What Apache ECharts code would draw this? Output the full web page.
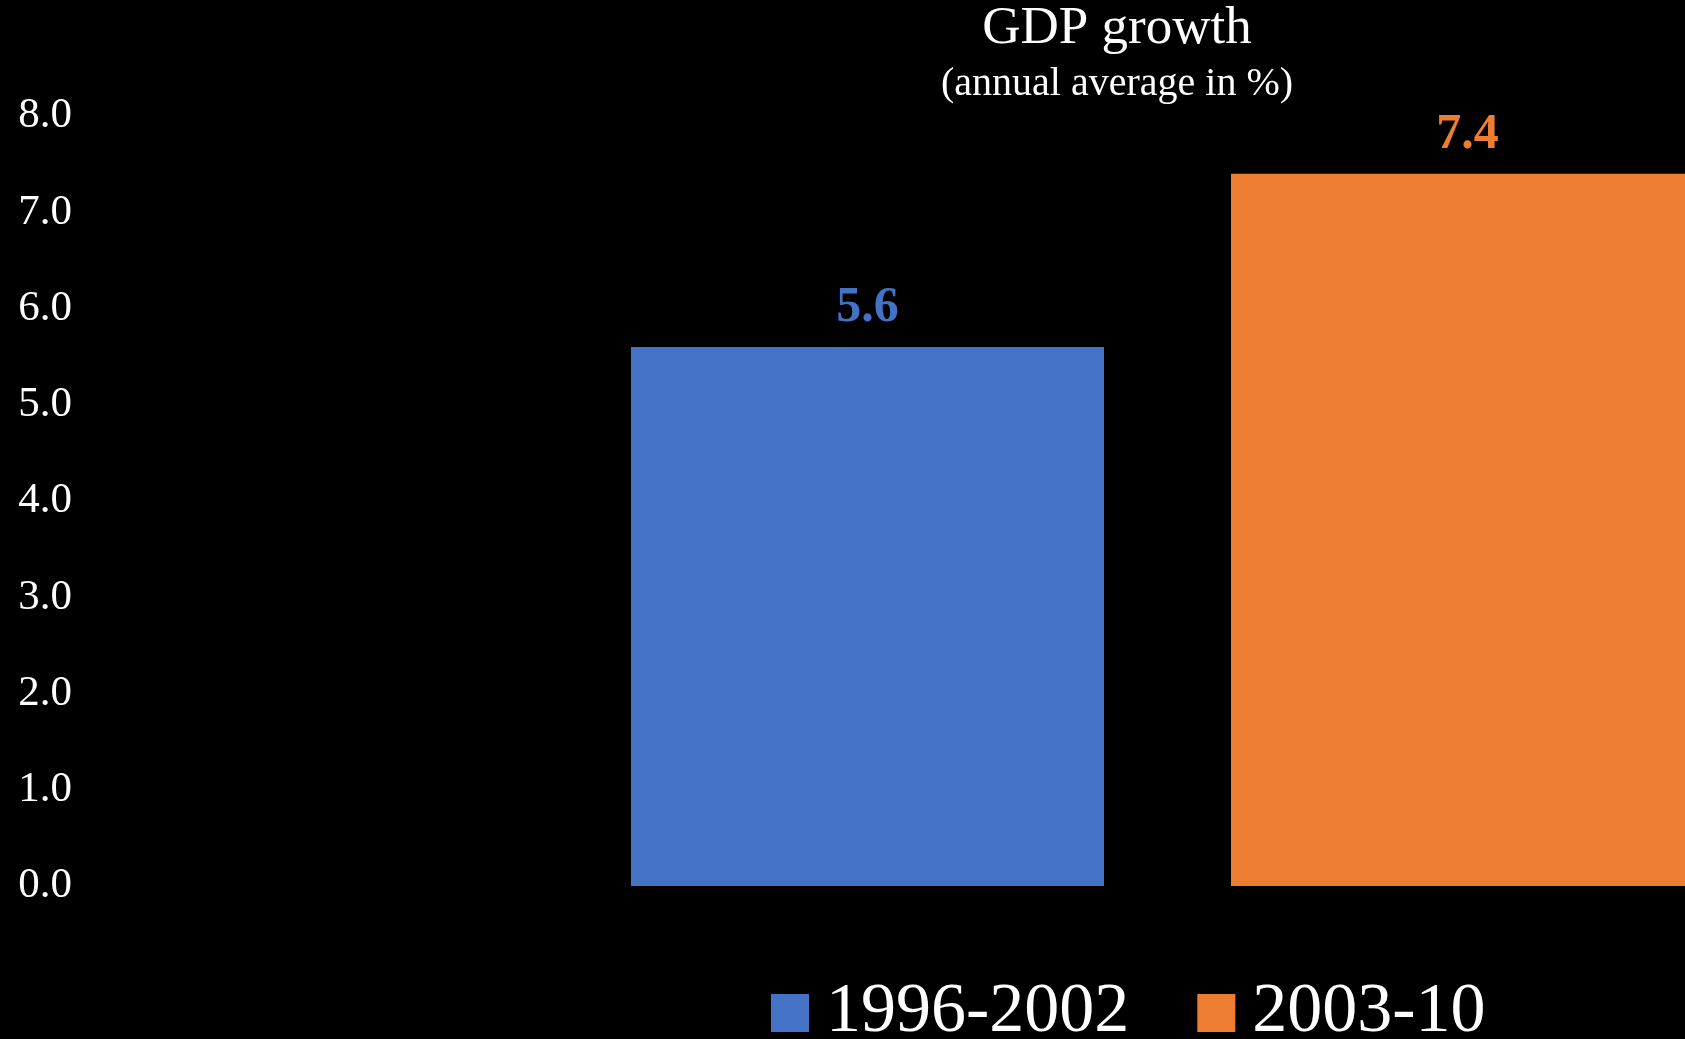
<!DOCTYPE html>
<html>
<head>
<meta charset="utf-8">
<title>GDP growth</title>
<script src="https://cdn.jsdelivr.net/npm/echarts@6/dist/echarts.min.js"></script>
<style>
  html, body { margin: 0; padding: 0; background: #000; }
  #chart { width: 1685px; height: 1039px; }
</style>
</head>
<body>
<div id="chart"></div>
<script>
// Average annual GDP growth for two periods
const categories = [''];
const periods = ['1996-2002', '2003-10'];
const growth1996 = [5.6];
const growth2003 = [7.4];
const yTicks = [0, 1, 2, 3, 4, 5, 6, 7, 8];

const serif = '"Liberation Serif", "DejaVu Serif", serif';
const colors = ['#4472C4', '#ED7D31'];

const chart = echarts.init(document.getElementById('chart'), null, { renderer: 'canvas' });

const valueLabel = (color) => ({
  show: true,
  position: 'top',
  distance: 14,
  color: color,
  fontFamily: serif,
  fontWeight: 'bold',
  fontSize: 50,
  formatter: (p) => p.value.toFixed(1)
});

chart.setOption({
  backgroundColor: '#000',
  animation: false,
  title: [
    {
      text: 'GDP growth',
      left: 1117,
      top: 3,
      padding: 0,
      textAlign: 'center',
      textStyle: { color: '#fff', fontFamily: serif, fontWeight: 'normal', fontSize: 53 }
    },
    {
      text: '(annual average in %)',
      left: 1117,
      top: 64,
      padding: 0,
      textAlign: 'center',
      textStyle: { color: '#fff', fontFamily: serif, fontWeight: 'normal', fontSize: 40 }
    }
  ],
  legend: {
    data: periods,
    left: 771,
    top: 978,
    padding: 0,
    itemWidth: 38,
    itemHeight: 38,
    itemGap: 68,
    icon: 'rect',
    textStyle: { color: '#fff', fontFamily: serif, fontSize: 70, padding: [0, 0, 0, 12] }
  },
  // the plot area is pushed right so the pair of bars sits off-centre; the
  // value axis is shifted back to the left edge with an offset
  grid: {
    left: 650,
    right: 0,
    top: 116,
    bottom: 153,
    containLabel: false
  },
  xAxis: {
    type: 'category',
    data: categories,
    axisLine: { show: false },
    axisTick: { show: false },
    axisLabel: { show: false },
    splitLine: { show: false }
  },
  yAxis: {
    type: 'value',
    min: yTicks[0],
    max: yTicks[yTicks.length - 1],
    interval: 1,
    offset: 570,
    axisLine: { show: false },
    axisTick: { show: false },
    splitLine: { show: false },
    axisLabel: {
      color: '#fff',
      fontFamily: serif,
      fontSize: 43,
      margin: 8,
      formatter: (v) => v.toFixed(1)
    }
  },
  series: [
    {
      name: periods[0],
      type: 'bar',
      data: growth1996,
      barWidth: 473,
      barGap: '26.85%',
      clip: false,
      itemStyle: { color: colors[0] },
      label: valueLabel(colors[0])
    },
    {
      name: periods[1],
      type: 'bar',
      data: growth2003,
      barWidth: 473,
      clip: false,
      itemStyle: { color: colors[1] },
      label: valueLabel(colors[1])
    }
  ]
});
</script>
</body>
</html>
